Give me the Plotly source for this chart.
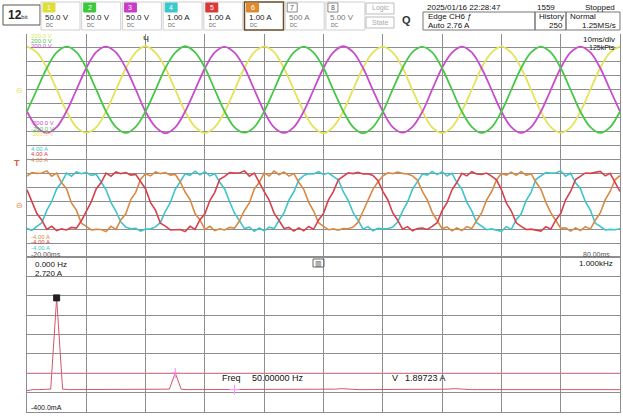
import numpy as np
import plotly.graph_objects as go

W, H = 623, 417
FONT = "Liberation Sans"

# ---------------- acquisition data ----------------
# voltages (V), sampled every 30 deg of the 50 Hz fundamental (1.667 ms)
t_volt = np.linspace(-20, 80, 61)
ch1_volt = [155, 134, 78, 1, -77, -134, -154, -135, -78, 0, 77, 134,
            156, 133, 78, 0, -78, -133, -155, -134, -79, -1, 78, 135,
            155, 135, 77, 0, -78, -134, -156, -133, -78, 1, 78, 134,
            154, 134, 79, -1, -77, -135, -155, -134, -77, 0, 79, 133,
            155, 133, 78, 0, -79, -134, -154, -135, -78, 0, 78, 134, 155]
ch2_volt = [-78, 0, 77, 134, 155, 135, 78, 1, -78, -134, -155, -133,
            -77, -1, 78, 133, 156, 134, 79, 0, -78, -135, -154, -134,
            -78, 0, 79, 134, 155, 133, 78, -1, -77, -134, -156, -134,
            -79, 1, 78, 135, 154, 134, 77, 0, -78, -133, -155, -135,
            -78, 0, 78, 134, 155, 134, 78, 0, -79, -134, -155, -134, -78]
ch3_volt = [-78, -134, -155, -134, -77, 0, 78, 135, 155, 134, 78, 1,
            -79, -133, -156, -135, -78, -1, 77, 134, 154, 133, 79, 0,
            -78, -135, -155, -134, -78, 0, 78, 134, 156, 135, 78, -1,
            -77, -134, -154, -133, -79, 1, 79, 133, 155, 134, 77, 0,
            -78, -134, -155, -134, -78, 0, 78, 134, 155, 134, 78, 0, -78]

# phase currents (A), sampled every 15 deg (0.833 ms)
t_curr = np.linspace(-20, 80, 121)
ch4_curr = [-1.96, -2.08, -1.80, -1.55, -0.66, -0.02, 0.88, 1.36, 2.02, 1.80, 2.10, 1.98,
            2.08, 1.86, 1.94, 1.40, 0.82, -0.10, -0.72, -1.50, -1.86, -1.98, -1.94, -2.14,
            -2.00, -1.98, -1.84, -1.52, -0.72, -0.10, 0.86, 1.40, 1.96, 1.86, 2.16, 1.90,
            2.12, 1.82, 1.98, 1.36, 0.88, -0.04, -0.86, -1.40, -1.96, -1.86, -2.16, -1.92,
            -2.12, -1.86, -1.96, -1.38, -0.84, 0.08, 0.68, 1.52, 1.84, 1.98, 1.96, 2.12,
            1.92, 2.02, 1.80, 1.54, 0.68, 0.06, -0.82, -1.36, -2.00, -1.82, -2.12, -1.95,
            -1.98, -1.97, -1.85, -1.50, -0.71, -0.07, 0.85, 1.38, 1.95, 1.88, 2.14, 1.91,
            2.12, 1.81, 2.01, 1.34, 0.87, -0.06, -0.69, -1.54, -1.80, -2.04, -1.98, -2.07,
            -2.16, -1.82, -2.02, -1.32, -0.90, 0.04, 0.64, 1.58, 1.80, 2.06, 2.02, 2.03,
            2.18, 1.80, 2.02, 1.32, 0.90, -0.03, -0.64, -1.58, -1.80, -2.06, -2.02, -2.04,
            -1.97]
ch5_curr = [0.82, -0.03, -0.88, -1.36, -2.02, -1.80, -2.10, -1.98, -2.06, -1.88, -1.93, -1.40,
            -0.66, -0.04, 0.88, 1.34, 2.02, 1.80, 2.10, 1.98, 2.06, 1.88, 1.93, 1.40,
            0.88, -0.10, -0.64, -1.58, -1.78, -2.06, -2.02, -2.03, -2.18, -1.80, -2.02, -1.32,
            -0.90, 0.05, 0.64, 1.58, 1.78, 2.06, 2.02, 2.03, 2.18, 1.80, 2.02, 1.32,
            0.69, 0.09, -0.85, -1.38, -1.95, -1.88, -2.14, -1.91, -2.12, -1.81, -2.01, -1.34,
            -0.87, 0.10, 0.69, 1.54, 1.80, 2.04, 1.98, 2.07, 1.96, 1.97, 1.85, 1.50,
            0.71, 0.11, -0.82, -1.36, -2.00, -1.82, -2.12, -1.95, -1.92, -2.02, -1.80, -1.54,
            -0.68, -0.10, 0.82, 1.36, 2.00, 1.82, 2.12, 1.95, 1.92, 2.02, 1.80, 1.54,
            0.84, -0.12, -0.70, -1.55, -1.80, -2.03, -2.00, -2.06, -2.14, -1.82, -2.00, -1.35,
            -0.88, 0.11, 0.70, 1.55, 1.80, 2.03, 2.00, 2.06, 2.14, 1.82, 2.00, 1.35,
            0.70]
ch6_curr = [1.80, 2.06, 2.00, 2.03, 2.18, 1.80, 2.02, 1.32, 0.90, -0.12, -0.64, -1.58,
            -1.80, -2.06, -2.02, -2.03, -2.18, -1.80, -2.02, -1.32, -0.90, 0.12, 0.64, 1.58,
            1.98, 1.82, 2.10, 1.98, 2.06, 1.88, 1.93, 1.40, 0.66, 0.12, -0.88, -1.34,
            -2.02, -1.80, -2.10, -1.98, -2.06, -1.88, -1.93, -1.40, -0.66, -0.12, 0.88, 1.34,
            2.04, 1.82, 2.16, 1.90, 2.10, 1.80, 1.98, 1.36, 0.86, -0.06, -0.70, -1.54,
            -1.80, -2.04, -1.98, -2.07, -1.96, -1.97, -1.85, -1.50, -0.72, 0.08, 0.85, 1.38,
            1.80, 2.04, 1.98, 2.10, 2.00, 1.96, 1.82, 1.52, 0.70, 0.10, -0.80, -1.38,
            -1.98, -1.84, -2.12, -1.92, -2.10, -1.82, -1.96, -1.38, -0.84, 0.08, 0.68, 1.52,
            2.00, 1.88, 2.08, 1.86, 2.14, 1.86, 1.98, 1.36, 0.86, -0.08, -0.84, -1.38,
            -1.94, -1.90, -2.14, -1.92, -2.10, -1.82, -2.00, -1.36, -0.84, 0.10, 0.70, 1.54,
            1.84]

# FFT of CH6, 10 Hz bins from 0 Hz to 1 kHz (A)
fft_freq = np.linspace(0, 1000, 101)
fft_amp = [0.03, 0.05, 0.05, 0.06, 0.06, 1.897, 0.06, 0.05, 0.05, 0.06,
           0.05, 0.06, 0.05, 0.05, 0.06, 0.05, 0.05, 0.06, 0.05, 0.05,
           0.05, 0.05, 0.05, 0.05, 0.06, 0.385, 0.06, 0.05, 0.05, 0.05,
           0.05, 0.05, 0.05, 0.05, 0.06, 0.06, 0.05, 0.05, 0.05, 0.05,
           0.05, 0.05, 0.05, 0.05, 0.05, 0.05, 0.05, 0.05, 0.05, 0.05,
           0.05, 0.05, 0.06, 0.07, 0.06, 0.05, 0.05, 0.05, 0.05, 0.05,
           0.05, 0.05, 0.05, 0.05, 0.05, 0.05, 0.05, 0.05, 0.05, 0.05,
           0.05, 0.06, 0.07, 0.06, 0.05, 0.05, 0.05, 0.05, 0.05, 0.05,
           0.05, 0.05, 0.05, 0.05, 0.05, 0.05, 0.05, 0.05, 0.05, 0.05,
           0.05, 0.05, 0.05, 0.05, 0.05, 0.05, 0.05, 0.05, 0.05, 0.05, 0.05]
fft_marker_freq = [50, 250, 350]
fft_marker_amp = [1.897, 0.385, 0.05]

# channel header
ch_names = ["1", "2", "3", "4", "5", "6", "7", "8"]
ch_scale = ["50.0 V", "50.0 V", "50.0 V", "1.00 A", "1.00 A", "1.00 A", "500 A", "5.00 V"]
ch_colors = ["#dede3a", "#3cc83c", "#c83cc8", "#3cc8c8", "#d83a3a", "#e08a2e", None, None]

# ---------------- layout geometry (pixels) ----------------
GX0, GX1 = 27, 620          # graticule left / right
GY0, GYM, GY1, GY2 = 34, 145.5, 257, 412   # top, V/I split, time/FFT split, bottom


def px(x):
    return x / W


def py(y):
    return 1 - y / H


GRID = "#8e8e8e"
wave = {"yellow": "#e3e35a", "green": "#46c846", "magenta": "#c84ccc",
        "cyan": "#40c4cc", "red": "#d8404c", "orange": "#d88a44"}

fig = go.Figure()

fig.add_trace(go.Scatter(x=t_volt, y=ch1_volt, mode="lines", xaxis="x", yaxis="y",
                         line=dict(color=wave["yellow"], width=1.8, shape="spline")))
fig.add_trace(go.Scatter(x=t_volt, y=ch3_volt, mode="lines", xaxis="x", yaxis="y",
                         line=dict(color=wave["magenta"], width=1.8, shape="spline")))
fig.add_trace(go.Scatter(x=t_volt, y=ch2_volt, mode="lines", xaxis="x", yaxis="y",
                         line=dict(color=wave["green"], width=1.8, shape="spline")))

fig.add_trace(go.Scatter(x=t_curr, y=ch4_curr, mode="lines", xaxis="x", yaxis="y2",
                         line=dict(color=wave["cyan"], width=1.6)))
fig.add_trace(go.Scatter(x=t_curr, y=ch6_curr, mode="lines", xaxis="x", yaxis="y2",
                         line=dict(color=wave["orange"], width=1.6)))
fig.add_trace(go.Scatter(x=t_curr, y=ch5_curr, mode="lines", xaxis="x", yaxis="y2",
                         line=dict(color=wave["red"], width=1.6)))

fig.add_trace(go.Scatter(x=fft_freq, y=fft_amp, mode="lines", xaxis="x2", yaxis="y3",
                         line=dict(color="#d4566a", width=1)))
fig.add_trace(go.Scatter(x=fft_marker_freq[:1], y=fft_marker_amp[:1], mode="markers",
                         xaxis="x2", yaxis="y3",
                         marker=dict(symbol="square-x", size=6, color="#222",
                                     line=dict(color="#222", width=1))))
fig.add_trace(go.Scatter(x=fft_marker_freq[1:], y=fft_marker_amp[1:], mode="markers",
                         xaxis="x2", yaxis="y3",
                         marker=dict(symbol="cross-thin-open", size=7,
                                     line=dict(color="#111", width=1.2))))

ax_common = dict(showgrid=True, gridcolor=GRID, gridwidth=1, zeroline=False,
                 showticklabels=False, ticks="", showline=True, linecolor=GRID,
                 linewidth=1, mirror=True, fixedrange=True)

fig.update_layout(
    width=W, height=H, margin=dict(l=0, r=0, t=0, b=0),
    paper_bgcolor="white", plot_bgcolor="white", showlegend=False,
    xaxis=dict(domain=[px(GX0), px(GX1)], range=[-20, 80], tick0=-20, dtick=10,
               anchor="y2", **ax_common),
    yaxis=dict(domain=[py(GYM), py(GY0)], range=[-200, 200], tick0=0, dtick=50,
               anchor="x", **ax_common),
    yaxis2=dict(domain=[py(GY1), py(GYM)], range=[-4, 4], tick0=0, dtick=1,
                anchor="x", **ax_common),
    xaxis2=dict(domain=[px(GX0), px(GX1)], range=[0, 1000], tick0=0, dtick=100,
                anchor="y3", **ax_common),
    yaxis3=dict(domain=[py(GY2), py(GY1)], range=[-0.4, 2.72], tick0=-0.4, dtick=0.39,
                anchor="x2", **ax_common),
)

# horizontal cursor at the 5th-harmonic level
fig.add_shape(type="line", xref="x2", yref="y3", x0=0, x1=1000, y0=0.38, y1=0.38,
              line=dict(color="#e07a8a", width=1))

ann = []


def txt(x, y, s, color="#111", size=8, xa="left", ya="middle", bold=False, font=FONT):
    if bold:
        s = "<b>" + s + "</b>"
    ann.append(dict(x=px(x), y=py(y), xref="paper", yref="paper", text=s, showarrow=False,
                    xanchor=xa, yanchor=ya, font=dict(family=font, size=size, color=color)))


shapes = []


def rect(x0, y0, x1, y1, line="#999", fill=None, lw=1):
    shapes.append(dict(type="rect", xref="paper", yref="paper", x0=px(x0), x1=px(x1),
                       y0=py(y1), y1=py(y0), line=dict(color=line, width=lw),
                       fillcolor=fill or "rgba(0,0,0,0)"))


# ---- header: resolution badge
rect(3, 5, 40, 25, line="#555", lw=1)
txt(6, 15, "<b>12</b><span style='font-size:6px'>bit</span>", size=12, color="#222")

# ---- channel tiles
for i in range(8):
    x0 = 43 + 40.7 * i
    if i == 5:
        rect(x0 - 2, 2, x0 + 37, 30, line="#6b4a2a", lw=1.5)
    else:
        rect(x0 - 2, 2, x0 + 37, 30, line="#cfcfcf", lw=1)
    if ch_colors[i]:
        rect(x0, 3, x0 + 12, 12, line=ch_colors[i], fill=ch_colors[i])
        txt(x0 + 6, 7.5, ch_names[i], color="white", size=7, xa="center")
        txt(x0, 17.5, ch_scale[i], color="#222", size=8)
    else:
        rect(x0, 3, x0 + 10, 12, line="#888")
        txt(x0 + 5, 7.5, ch_names[i], color="#555", size=7, xa="center")
        txt(x0, 17.5, ch_scale[i], color="#777", size=8)
    txt(x0 + 1, 25, "DC", color="#666", size=5)

# logic / state buttons
rect(366, 3, 394, 14, line="#bbb")
txt(380, 8.5, "Logic", color="#aaa", size=7, xa="center")
rect(366, 17, 394, 28, line="#bbb")
txt(380, 22.5, "State", color="#aaa", size=7, xa="center")

# zoom icon
txt(406, 20, "<b>Q</b>", color="#333", size=11, xa="center")

# acquisition status block
txt(425, 7, "2025/01/16 22:28:47", size=8)
txt(557, 7, "1559", size=8, xa="right")
txt(617, 7, "Stopped", size=8, xa="right")
rect(423, 12, 535, 30, line="#777")
rect(535, 12, 566, 30, line="#777")
rect(566, 12, 620, 30, line="#777")
txt(426, 16.5, "Edge CH6 &#x0192;", size=8)
txt(426, 25.5, "Auto 2.76 A", size=8)
txt(537, 16.5, "History", size=8)
txt(565, 25.5, "250", size=8, xa="right")
txt(568, 16.5, "Normal", size=8)
txt(618, 25.5, "1.25MS/s", size=8, xa="right")
txt(617, 40, "10ms/div", size=8, xa="right")
txt(617, 48, "125kPts", size=7, xa="right")

# trigger position marker
txt(145.6, 39, "Ч", size=9, xa="center", color="#222")

# channel position / trigger level markers on the left edge
txt(20, 91, "⊖", color=wave["yellow"], size=8, xa="center")
txt(20, 205, "⊖", color=wave["orange"], size=8, xa="center")
txt(17, 163, "T", color="#d0603a", size=9, xa="center", bold=True)

# channel range labels
txt(29, 36, "200.0 V", color=wave["yellow"], size=6)
txt(29, 41, "200.0 V", color=wave["green"], size=6)
txt(29, 46, "200.0 V", color=wave["magenta"], size=6)
txt(29, 123, "-200.0 V", color=wave["magenta"], size=6)
txt(29, 128.5, "-200.0 V", color=wave["green"], size=6)
txt(29, 134, "-200.0 V", color=wave["yellow"], size=6)
txt(29, 149, "4.00 A", color=wave["cyan"], size=6)
txt(29, 154.5, "4.00 A", color=wave["red"], size=6)
txt(29, 160, "4.00 A", color=wave["orange"], size=6)
txt(29, 236.5, "-4.00 A", color=wave["orange"], size=6)
txt(29, 242, "-4.00 A", color=wave["red"], size=6)
txt(29, 247.5, "-4.00 A", color=wave["cyan"], size=6)

# time / frequency scale labels
txt(29, 254, "-20.00ms", color="#555", size=7)
txt(612, 254, "80.00ms", color="#555", size=7, xa="right")
txt(33, 264, "0.000 Hz", size=8)
txt(33, 273, "2.720 A", size=8)
txt(615, 263, "1.000kHz", size=8, xa="right")
txt(29, 407, "-400.0mA", size=7)
rect(313, 259, 324, 267, line="#666")
txt(318.5, 263, "▥", size=7, xa="center", color="#444")

# cursor readouts
txt(220, 377.5, "Freq", size=9)
txt(250, 377.5, "50.00000 Hz", size=9)
txt(390, 377.5, "V", size=9)
txt(403, 377.5, "1.89723 A", size=9)

fig.update_layout(annotations=ann, shapes=list(fig.layout.shapes) + shapes)
fig.write_html("out.html")
